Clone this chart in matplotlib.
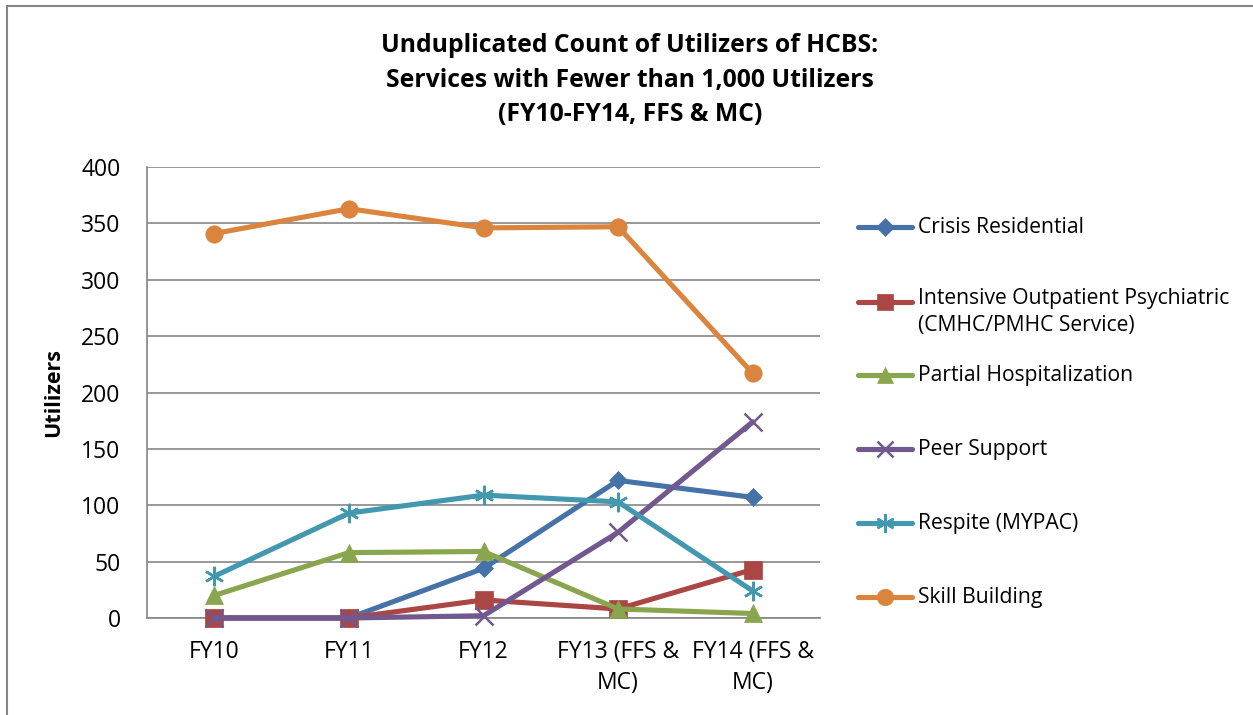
import matplotlib
matplotlib.use("Agg")

import matplotlib.pyplot as plt
from matplotlib.lines import Line2D
from matplotlib.patches import Rectangle

# datos
categories = ['FY10', 'FY11', 'FY12', 'FY13 (FFS &\nMC)', 'FY14 (FFS &\nMC)']
series_names = [
    'Crisis Residential',
    'Intensive Outpatient Psychiatric\n(CMHC/PMHC Service)',
    'Partial Hospitalization',
    'Peer Support',
    'Respite (MYPAC)',
    'Skill Building',
]
crisis = [0, 0, 44, 122, 107]
intensive = [0, 0, 16, 8, 43]
partial = [20, 58, 59, 8, 4]
peer = [0, 0, 2, 76, 174]
respite = [37, 93, 109, 103, 24]
skill = [341, 363, 346, 347, 217]
yticks = [0, 50, 100, 150, 200, 250, 300, 350, 400]

values = [crisis, intensive, partial, peer, respite, skill]
colors = ['#4572A7', '#AA4643', '#89A54E', '#71588F', '#4198AF', '#DB843D']
markers = ['D', 's', '^', 'x', (6, 2, 0), 'o']
msizes = [9.5, 12.5, 12.5, 12.5, 14, 12.5]

plt.rcParams['font.family'] = ['Open Sans', 'DejaVu Sans']

W, H = 1253, 715
fig = plt.figure(figsize=(W / 100, H / 100), dpi=100)
ax = fig.add_axes([147 / W, 1 - 618 / H, (820 - 147) / W, (618 - 167) / H])

x = list(range(len(categories)))
for vals, c, m, ms in zip(values, colors, markers, msizes):
    mew = 1.8 if m in ('x', (6, 2, 0)) else 0.5
    ax.plot(x, vals, color=c, linewidth=3.7, marker=m, markersize=ms,
            markerfacecolor=c, markeredgecolor=c, markeredgewidth=mew,
            solid_capstyle='round', clip_on=False, zorder=3)

ax.set_xlim(-0.5, len(categories) - 0.5)
ax.set_ylim(0, 400)
ax.set_yticks(yticks)
ax.set_yticklabels([str(v) for v in yticks], fontsize=16.5)
ax.set_xticks(x)
ax.set_xticklabels(categories, fontsize=16.5, linespacing=1.4)
ax.tick_params(length=0)
ax.tick_params(axis='x', pad=16)
ax.tick_params(axis='y', pad=19)
ax.grid(axis='y', color='#868686', linewidth=1.2, zorder=0)
for s in ['top', 'right']:
    ax.spines[s].set_visible(False)
for s in ['left', 'bottom']:
    ax.spines[s].set_color('#868686')
    ax.spines[s].set_linewidth(1.2)
ax.set_ylabel('Utilizers', fontsize=15.5, fontweight='bold', labelpad=12)

fig.text(630 / W, 1 - 80 / H,
         'Unduplicated Count of Utilizers of HCBS:\nServices with Fewer than 1,000 Utilizers\n(FY10-FY14, FFS & MC)',
         ha='center', va='center', fontsize=17.8, fontweight='bold', linespacing=1.48)

# leyenda manual
leg_y = [227, 302, 375, 449, 523, 597]
for name, c, m, ms, yy in zip(series_names, colors, markers, msizes, leg_y):
    fy = 1 - yy / H
    mew = 1.8 if m in ('x', (6, 2, 0)) else 0.5
    fig.add_artist(Line2D([858 / W, 912 / W], [fy, fy], color=c, linewidth=3.7,
                          solid_capstyle='round', transform=fig.transFigure))
    fig.add_artist(Line2D([885 / W], [fy], marker=m, markersize=ms * 0.95, color=c,
                          markerfacecolor=c, markeredgecolor=c, markeredgewidth=mew,
                          transform=fig.transFigure))
    if '\n' in name:
        fig.text(918 / W, fy + 14 / H, name, ha='left', va='top', fontsize=15.2, linespacing=1.35)
    else:
        fig.text(918 / W, fy, name, ha='left', va='center', fontsize=15.2)

# borde del grafico
fig.add_artist(Rectangle((7 / W, -0.1), 1.2, 1 - 6 / H + 0.1, fill=False,
                         edgecolor='#868686', linewidth=1.5, transform=fig.transFigure))

fig.savefig('out.png', dpi=100)
